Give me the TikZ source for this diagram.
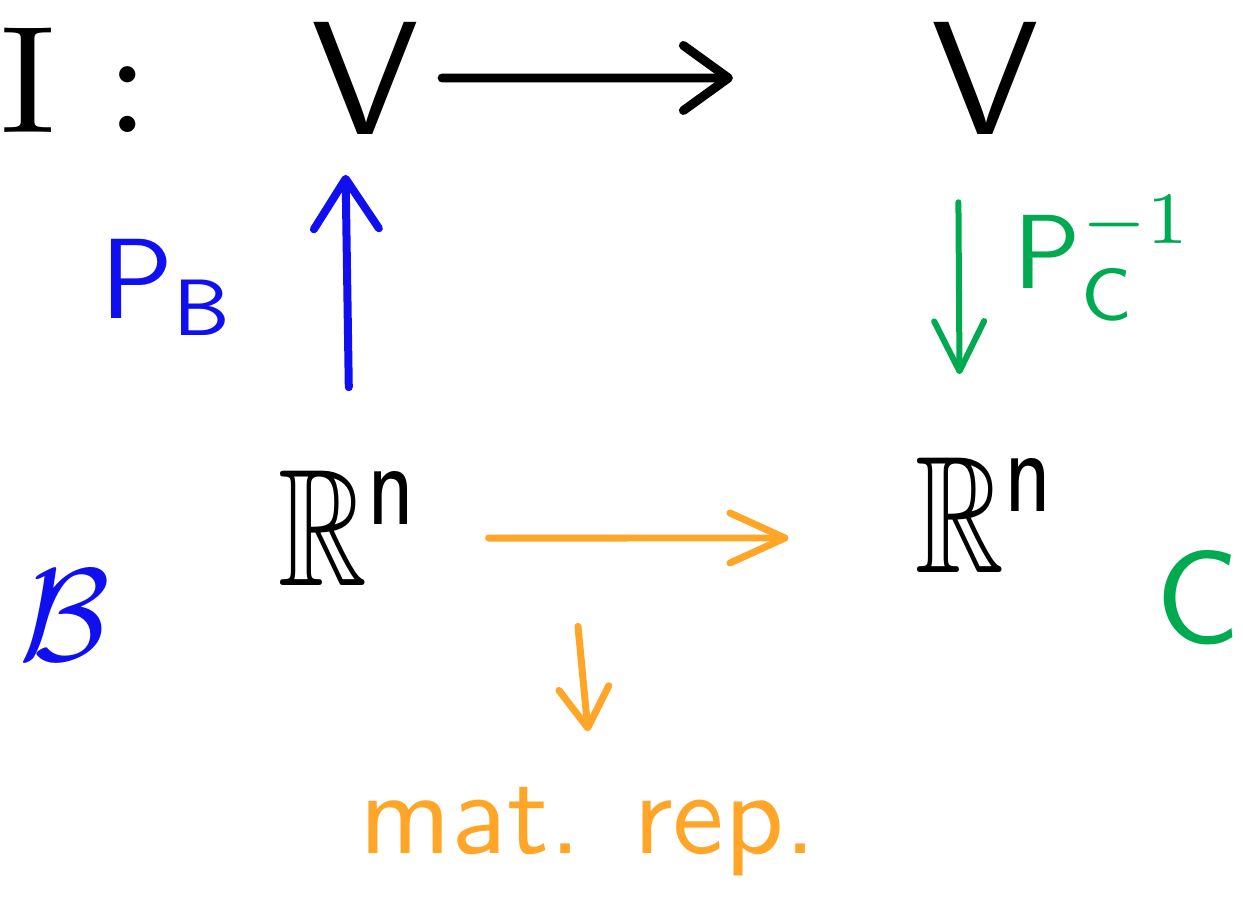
\documentclass[tikz,border=0pt]{standalone}
\usepackage{amssymb}
\usetikzlibrary{arrows.meta}
\definecolor{hblue}{RGB}{15,15,240}
\definecolor{hgreen}{RGB}{0,170,80}
\definecolor{horange}{RGB}{255,165,40}
\begin{document}
\begin{tikzpicture}[x=0.02cm,y=-0.02cm,
  every node/.style={inner sep=0pt},
  lbl/.style={font=\sffamily},
  arr/.style 2 args={line cap=round, line join=round,
    -{Straight Barb[round,length=#1,width=#2]}}]
\useasboundingbox (0,0) rectangle (1243,898);
% nodes
\node[scale=8.7] (I) at (75,80) {I :};
\node[lbl,scale=9.2] (V1) at (365,78) {V};
\node[lbl,scale=9.2] (V2) at (985,78) {V};
\node[xscale=7,yscale=9.5] (R1) at (350,528) {$\mathbb{R}^{\mathsf{n}}$};
\node[xscale=7,yscale=9.5] (R2) at (987,515) {$\mathbb{R}^{\mathsf{n}}$};
\node[hblue,scale=6.5] (PB) at (168,287) {$\mathsf{P}_{\mathsf{B}}$};
\node[hgreen,scale=6] (PC) at (1104,258) {$\mathsf{P}_{\mathsf{C}}^{-1}$};
\node[hblue,scale=7.5] (B) at (65,615) {$\mathcal{B}$};
\node[hgreen,lbl,scale=7.5] (C) at (1198,598) {C};
\node[horange,lbl,scale=6.6] (M) at (588,832) {mat. rep.};
% connectors
\draw[arr={0.9cm}{1.3cm}, line width=0.18cm, black, shorten <=0.4cm, shorten >=3.9cm] (V1) -- (V2);
\draw[arr={1cm}{1.3cm}, line width=0.16cm, hblue, shorten <=1.6cm, shorten >=0.75cm]
  ([xshift=0cm]R1.north) -- ([xshift=-0.4cm]V1.south);
\draw[arr={1cm}{1cm}, line width=0.12cm, hgreen, shorten <=1.3cm, shorten >=1.6cm]
  ([xshift=-0.54cm]V2.south) -- ([xshift=-0.54cm]R2.north);
\draw[arr={1.1cm}{1cm}, line width=0.14cm, horange, shorten <=1.3cm, shorten >=2.5cm]
  ([yshift=-0.2cm]R1.east) -- ([yshift=-0.46cm]R2.west);
\draw[arr={0.8cm}{1cm}, line width=0.14cm, horange]
  ([xshift=-0.2cm,yshift=3.18cm]M.north) -- ([yshift=1.08cm]M.north);
\end{tikzpicture}
\end{document}
